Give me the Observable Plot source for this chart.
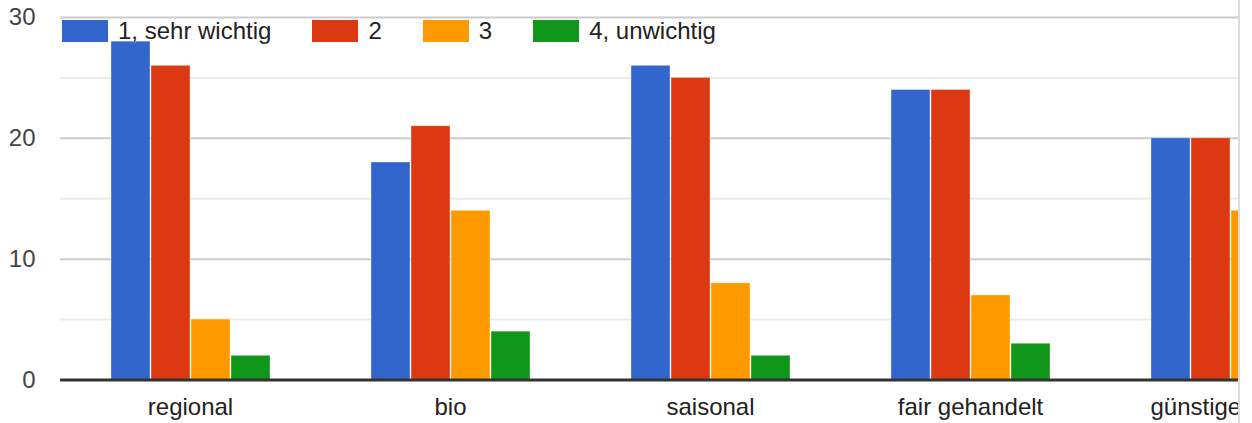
<!DOCTYPE html>
<html><head><meta charset="utf-8">
<script src="https://cdn.jsdelivr.net/npm/d3@7"></script>
<script src="https://cdn.jsdelivr.net/npm/@observablehq/plot@0.6"></script>
<style>
html,body{margin:0;padding:0;background:#fff;overflow:hidden;}
#wrap{position:relative;width:1238px;height:423px;overflow:hidden;border-right:2px solid #dcdcdc;}
#chart svg{max-width:none !important;display:block;}
#legend{position:absolute;left:62px;top:20px;display:flex;align-items:center;font-family:Arial,"Liberation Sans",sans-serif;font-size:24px;line-height:22px;color:#222;}
.item{display:flex;align-items:center;margin-right:41px;}
.item span{text-shadow:0 0 1px #fff,0 0 1px #fff,0 0 2px #fff;}
.sw{width:46px;height:22px;margin-right:10px;}
</style></head><body><div id="wrap"><div id="chart"></div><div id="legend"></div></div>
<script>
const categories = ["regional", "bio", "saisonal", "fair gehandelt", "günstiger Preis"];
const series = ["1, sehr wichtig", "2", "3", "4, unwichtig"];
const sehrWichtig = [28, 18, 26, 24, 20];
const zwei = [26, 21, 25, 24, 20];
const drei = [5, 14, 8, 7, 14];
const unwichtig = [2, 4, 2, 3, 3];
const colors = ["#3366cc", "#dc3912", "#ff9900", "#109618"];
const majorTicks = [0, 10, 20, 30];
const minorTicks = [5, 15, 25];

const values = [sehrWichtig, zwei, drei, unwichtig];
const data = [];
categories.forEach((c, i) => series.forEach((s, j) => data.push({category: c, series: s, value: values[j][i]})));

const chart = Plot.plot({
  width: 1360, height: 423,
  marginLeft: 60, marginRight: 0, marginTop: 17, marginBottom: 43.5,
  style: {fontFamily: 'Arial, "Liberation Sans", sans-serif', fontSize: "24px", background: "#fff", overflow: "visible", maxWidth: "none"},
  fx: {domain: categories, padding: 0, label: null},
  x: {domain: series, paddingInner: 0.035, paddingOuter: 1.2, axis: null},
  y: {domain: [0, 30], axis: null, label: null},
  color: {domain: series, range: colors},
  marks: [
    Plot.ruleY(minorTicks, {stroke: "#ebebeb", strokeWidth: 2}),
    Plot.ruleY(majorTicks.filter(d => d > 0), {stroke: "#cccccc", strokeWidth: 2}),
    Plot.barY(data, {fx: "category", x: "series", y: "value", fill: "series", stroke: "white", strokeOpacity: 0.35, strokeWidth: 1}),
    Plot.ruleY([0], {stroke: "#333", strokeWidth: 3}),
    Plot.axisY({ticks: majorTicks, tickSize: 0, tickPadding: 25, label: null, fill: "#444"}),
    Plot.axisFx({anchor: "bottom", tickSize: 0, tickPadding: 18, label: null, fill: "#222"})
  ]
});
document.getElementById("chart").append(chart);

const legend = document.getElementById("legend");
series.forEach((s, i) => {
  const item = document.createElement("div");
  item.className = "item";
  const sw = document.createElement("div");
  sw.className = "sw";
  sw.style.background = colors[i];
  const t = document.createElement("span");
  t.textContent = s;
  item.append(sw, t);
  legend.append(item);
});
</script></body></html>
